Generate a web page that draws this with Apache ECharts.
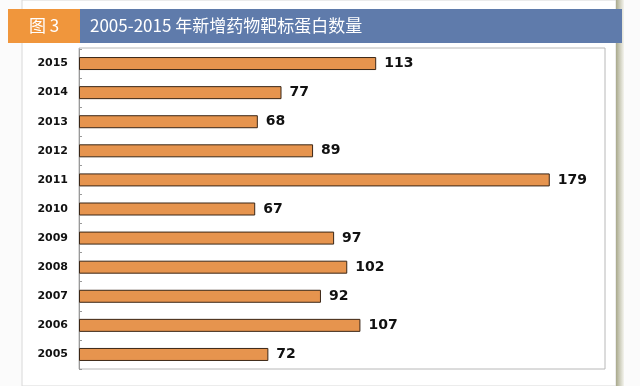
<!DOCTYPE html>
<html><head><meta charset="utf-8">
<script src="https://cdn.jsdelivr.net/npm/echarts@6/dist/echarts.min.js"></script>
<style>html,body{margin:0;padding:0;background:#fff}#c{width:640px;height:386px}</style>
</head><body><div id="c"></div>
<script>
var years = ['2005','2006','2007','2008','2009','2010','2011','2012','2013','2014','2015'];
var counts = [72,107,92,102,97,67,179,89,68,77,113];
var figLabel = '图 3';
var titleText = '2005-2015 年新增药物靶标蛋白数量';

var chart = echarts.init(document.getElementById('c'));
chart.setOption({
  animation: false,
  backgroundColor: '#fbfbfb',
  graphic: [
    {type:'rect', z:-10, shape:{x:22,y:0,width:594,height:386}, style:{fill:'#ffffff', stroke:'#d8d8d8', lineWidth:1}},
    {type:'rect', z:-10, shape:{x:616,y:0,width:8,height:386}, style:{fill:new echarts.graphic.LinearGradient(0,0,1,0,[{offset:0,color:'#a9a98c'},{offset:1,color:'#f4f4ee'}])}},
    {type:'rect', z:-5, shape:{x:8,y:9,width:72,height:34}, style:{fill:'#F0963C'}},
    {type:'rect', z:-5, shape:{x:80,y:9,width:542,height:34}, style:{fill:'#5F7BAB'}},
    {type:'text', z:10, x:44, y:26, style:{text:figLabel, fill:'#fff', font:'17px "Noto Sans CJK SC", sans-serif', align:'center', verticalAlign:'middle'}},
    {type:'text', z:10, x:90, y:26, style:{text:titleText, fill:'#fff', font:'17px "Noto Sans CJK SC", sans-serif', align:'left', verticalAlign:'middle'}},
    {type:'rect', z:-4, shape:{x:79,y:48,width:526,height:321}, style:{fill:'#fff', stroke:'#b8b8b8', lineWidth:1}}
  ],
  grid: {left:79, right:35, top:49, bottom:17},
  xAxis: {type:'value', min:0, max:200, show:false, splitLine:{show:false}},
  yAxis: {
    type:'category', data: years,
    axisLine:{show:true, lineStyle:{color:'#999', width:1}},
    axisTick:{show:true, inside:true, length:3, lineStyle:{color:'#999'}},
    axisLabel:{color:'#111', fontWeight:'bold', fontSize:11, fontFamily:'DejaVu Sans', margin:11}
  },
  series: [{
    type:'bar', data: counts, barWidth:13,
    itemStyle:{color:'#E6944E', borderColor:'#3a2616', borderWidth:1},
    label:{show:true, position:'right', distance:8, color:'#111', fontWeight:'bold', fontSize:14, fontFamily:'DejaVu Sans'}
  }]
});
</script></body></html>
